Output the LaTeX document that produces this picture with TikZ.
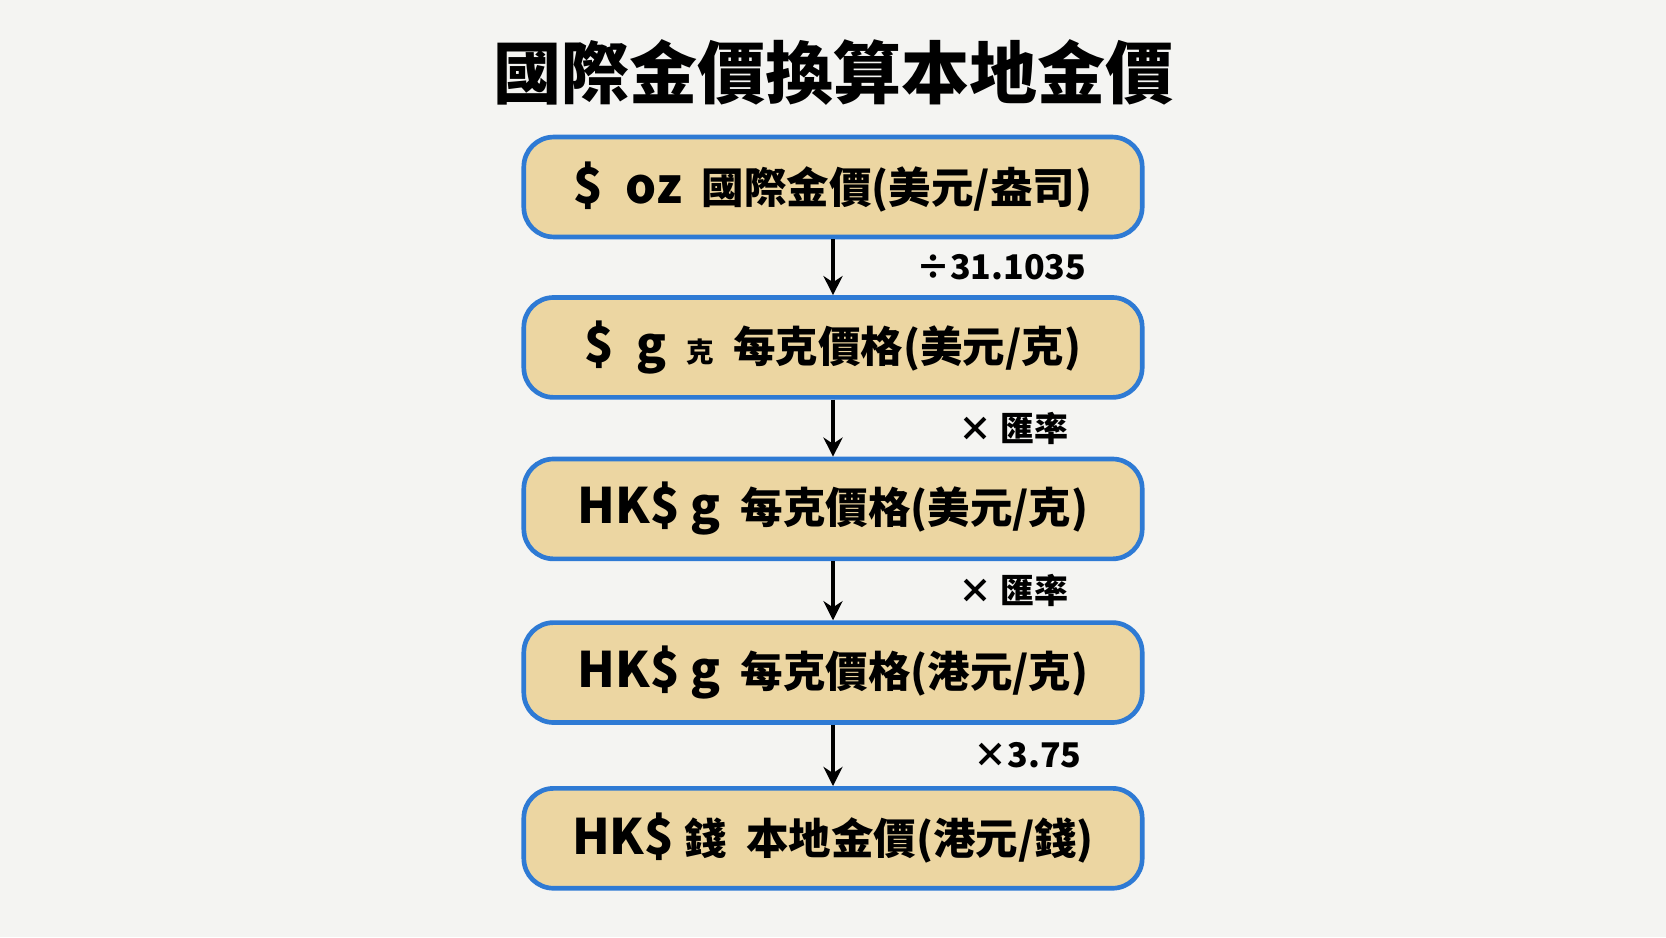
\documentclass[tikz,border=0pt]{standalone}
\usepackage{fontspec}
\setmainfont{Noto Sans CJK TC}
\usetikzlibrary{positioning, arrows.meta}
\definecolor{paper}{RGB}{244,244,242}
\definecolor{boxfill}{RGB}{236,214,162}
\definecolor{boxline}{RGB}{46,122,212}
\newcommand{\unitpart}[1]{{\fontsize{23}{26}\selectfont #1}}

\begin{document}
\begin{tikzpicture}[
        x=0.5pt,
        y=-0.5pt,
        >={Stealth[length=9pt,width=9pt]},
        stepbox/.style={draw=boxline, line width=2.2pt, fill=boxfill,
            rounded corners=14pt, minimum width=291pt, minimum height=47pt,
            font=\fontsize{20}{23}\selectfont\bfseries},
        flow/.style={->, line width=1.6pt},
        factor/.style={font=\fontsize{16}{19}\selectfont\bfseries, anchor=west}
    ]
    \fill[paper] (0,0) rectangle (1568,882);
    \node[font=\fontsize{32}{36}\selectfont\bfseries] (title) at (784,68) {國際金價換算本地金價};
    \node[stepbox] (oz) at (784,176) {\unitpart{\$\ \ oz}\ \ 國際金價(美元/盎司)};
    \node[stepbox] (usdg) at (784,327) {\unitpart{\$\ \ g}\ \ {\fontsize{13}{15}\selectfont 克}\ \ 每克價格(美元/克)};
    \node[stepbox] (hkg) at (784,479) {\unitpart{HK\$\ g}\ \ 每克價格(美元/克)};
    \node[stepbox] (hkdg) at (784,633) {\unitpart{HK\$\ g}\ \ 每克價格(港元/克)};
    \node[stepbox] (tael) at (784,789) {\unitpart{HK\$}\ 錢\ \ 本地金價(港元/錢)};
    % conversion steps
    \draw[flow] (oz) -- node[factor, xshift=35pt] {÷31.1035} (usdg);
    \draw[flow] (usdg) -- node[factor, xshift=55pt] {× 匯率} (hkg);
    \draw[flow] (hkg) -- node[factor, xshift=55pt] {× 匯率} (hkdg);
    \draw[flow] (hkdg) -- node[factor, xshift=62pt] {×3.75} (tael);
\end{tikzpicture}
\end{document}
